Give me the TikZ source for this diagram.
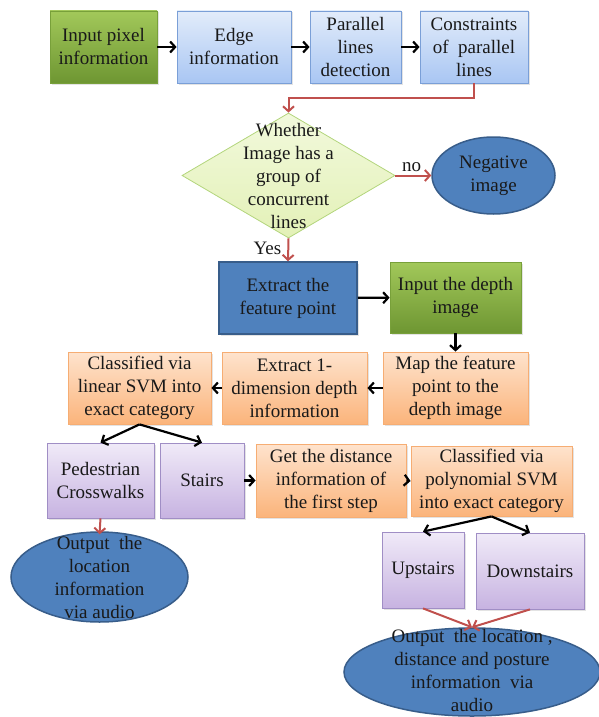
\documentclass[tikz,border=0pt]{standalone}
\usepackage{fontspec}
\setmainfont{Liberation Serif}
\newfontfamily\tnr{Liberation Serif}
\usetikzlibrary{shapes.geometric,arrows.meta,shadows}
\definecolor{grnT}{HTML}{A2C85A}
\definecolor{grnB}{HTML}{6E9632}
\definecolor{bluT}{HTML}{E2ECFA}
\definecolor{bluB}{HTML}{A9C6F3}
\definecolor{bluD}{HTML}{7A9FD7}
\definecolor{dkblu}{HTML}{4F81BD}
\definecolor{dkbluD}{HTML}{385D8A}
\definecolor{orT}{HTML}{FEE3CD}
\definecolor{orB}{HTML}{FBB47B}
\definecolor{orD}{HTML}{F6AD73}
\definecolor{puT}{HTML}{F0EAF8}
\definecolor{puB}{HTML}{C7B3E1}
\definecolor{puD}{HTML}{A08EC5}
\definecolor{dmT}{HTML}{F2F9DC}
\definecolor{dmB}{HTML}{E3F1B7}
\definecolor{dmD}{HTML}{B3D57C}
\definecolor{redline}{HTML}{C0504D}
\begin{document}
\begin{tikzpicture}[x=1pt,y=-1pt,
  every node/.style={font=\tnr\fontsize{19}{23}\selectfont, align=center, inner sep=0pt, text=black!90},
  box/.style={rectangle, line width=0.8pt, drop shadow={shadow xshift=1.5pt,shadow yshift=-1.5pt,opacity=0.22}},
  greenbox/.style={box, draw=grnB!80!grnT, top color=grnT, bottom color=grnB},
  bluebox/.style={box, draw=bluD, top color=bluT, bottom color=bluB},
  darkbox/.style={box, draw=dkbluD, fill=dkblu, line width=1.5pt},
  orbox/.style={box, draw=orD, top color=orT, bottom color=orB},
  pubox/.style={box, draw=puD, top color=puT, bottom color=puB},
  darkell/.style={ellipse, draw=dkbluD, fill=dkblu, line width=1.5pt, inner sep=0pt},
  decshape/.style={diamond, draw=dmD, top color=dmT, bottom color=dmB, line width=0.8pt, inner sep=0pt},
  blk/.style={draw=black, line width=2.2pt, -{Straight Barb[length=5pt,width=11pt,line width=2.2pt]}},
  redarr/.style={draw=redline, line width=2pt, -{Straight Barb[length=5pt,width=11pt,line width=2pt]}},
  lbl/.style={font=\tnr\fontsize{19}{23}\selectfont}
]
\useasboundingbox (0,0) rectangle (599,717);

% row 1
\node[greenbox, minimum width=107pt, minimum height=72pt] (in1) at (103.5,47) {Input pixel\\information};
\node[bluebox, minimum width=114pt, minimum height=72pt] (edge) at (234,47) {Edge\\information};
\node[bluebox, minimum width=91pt, minimum height=72pt] (par) at (355.5,47) {Parallel\\lines\\detection};
\node[bluebox, minimum width=108pt, minimum height=72pt] (cons) at (474,47) {Constraints\\of\ \ parallel\\lines};

% decision
\node[decshape, minimum width=213pt, minimum height=125pt] (dec) at (288.5,175.5) {};
\node (dectext) at (dec.center) {Whether\\Image has a\\group of\\concurrent\\lines};
\node[darkell, minimum width=123pt, minimum height=77pt] (neg) at (493.5,175.5) {Negative\\image};

% row 3
\node[darkbox, minimum width=138pt, minimum height=72pt] (feat) at (288,298) {Extract the\\feature point};
\node[greenbox, minimum width=131pt, minimum height=71pt] (depth) at (455.5,297.5) {Input the depth\\image};

% row 4
\node[orbox, minimum width=145pt, minimum height=72pt] (map) at (455.5,388) {Map the feature\\point to the\\depth image};
\node[orbox, minimum width=145pt, minimum height=72pt] (ext1) at (294.5,388) {Extract 1-\\dimension depth\\information};
\node[orbox, minimum width=143pt, minimum height=72pt] (cls1) at (139.5,388) {Classified via\\linear SVM into\\exact category};

% row 5
\node[pubox, minimum width=107pt, minimum height=75pt] (ped) at (100.5,480.5) {Pedestrian\\Crosswalks};
\node[pubox, minimum width=84pt, minimum height=75pt] (stairs) at (202,480.5) {Stairs};
\node[orbox, minimum width=150pt, minimum height=73pt] (dist) at (331,480.5) {Get the distance\\information of\\the first step};
\node[orbox, minimum width=161pt, minimum height=70pt] (cls2) at (491.5,481) {Classified via\\polynomial SVM\\into exact category};

% row 6
\node[pubox, minimum width=82pt, minimum height=76pt] (up) at (423,570) {Upstairs};
\node[pubox, minimum width=108pt, minimum height=76pt] (down) at (530,571) {Downstairs};

% outputs
\node[darkell, minimum width=177pt, minimum height=90pt] (out1) at (99.5,577) {};
\node (out1text) at (99.5,577.5) {Output\ \ the\\location\\information\\via audio};
\node[darkell, minimum width=256pt, minimum height=88pt] (out2) at (472,672) {};
\node (out2text) at (472,670.5) {Output\ \ the location ,\\distance and posture\\information\ \ via\\audio};

% connectors
\draw[blk] (in1) -- (edge);
\draw[blk] (edge) -- (par);
\draw[blk] (par) -- (cons);
\draw[redarr] (cons.south) -- ++(0,15) -| (dec.north);
\draw[redarr] (dec.east) -- (neg.west) node[lbl, pos=0.45, above=3pt] (nolbl) {no};
\draw[redarr] (dec.south) -- (feat.north) node[lbl, pos=0.45, left=6pt] (yeslbl) {Yes};
\draw[blk] (feat) -- (depth);
\draw[blk] (depth.south) -- (map.north);
\draw[blk] (map) -- (ext1);
\draw[blk] (ext1) -- (cls1);
\draw[blk] (cls1.south) -- (ped.north);
\draw[blk] (cls1.south) -- (stairs.north);
\draw[blk] (stairs.east) -- (dist.west |- stairs.east);
\draw[blk] (dist.east) -- (cls2.west);
\draw[redarr] (ped.south) -- ([yshift=-3pt]out1.north);
\draw[blk] (cls2.south) -- (up.north);
\draw[blk] (cls2.south) -- (down.north);
\draw[redarr] (up.south) -- (out2.north);
\draw[redarr] (down.south) -- (out2.north);
\end{tikzpicture}
\end{document}
